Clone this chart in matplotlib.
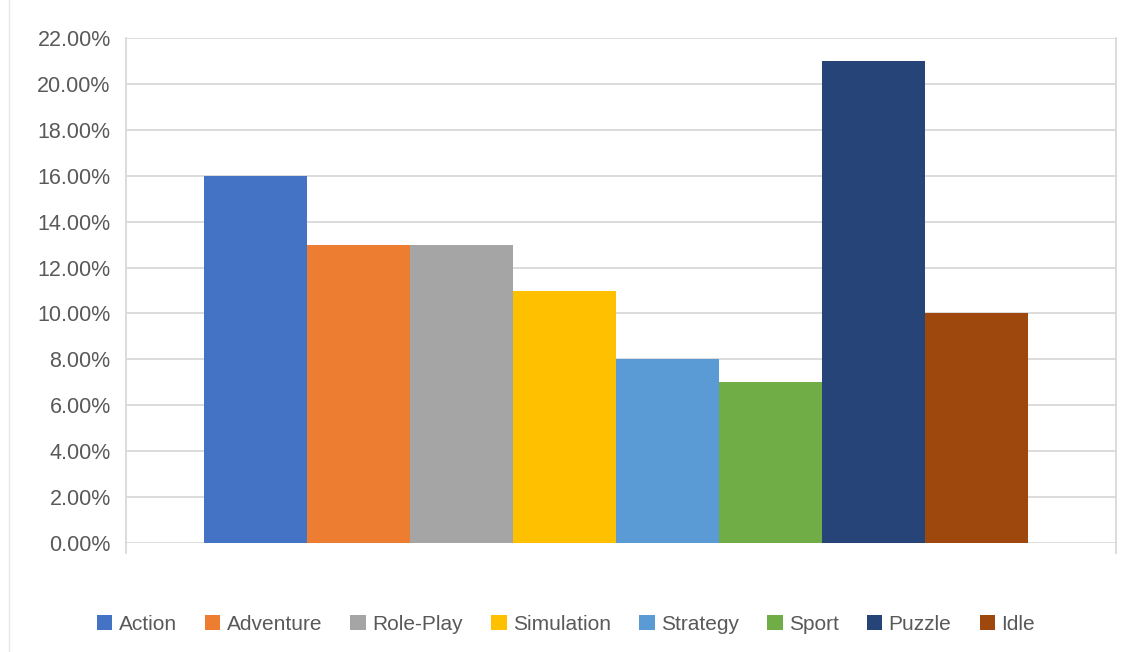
import numpy as np
import matplotlib
matplotlib.use("Agg")
from matplotlib import pyplot as plt
from matplotlib.ticker import PercentFormatter

# genre shares (fraction of total)
genres = ["Action", "Adventure", "Role-Play", "Simulation", "Strategy", "Sport", "Puzzle", "Idle"]
shares = [0.16, 0.13, 0.13, 0.11, 0.08, 0.07, 0.21, 0.10]
colors = ["#4472C4", "#ED7D31", "#A5A5A5", "#FFC000", "#5B9BD5", "#70AD47", "#264478", "#9E480E"]
y_ticks = np.arange(0, 0.2201, 0.02)

plt.rcParams["font.family"] = ["Liberation Sans", "DejaVu Sans"]

fig = plt.figure(figsize=(11.41, 6.52), dpi=100)
ax = fig.add_axes([126/1141, 1 - 543/652, 990/1141, 505/652])

n = len(genres)
w = 0.832 / n
for i in range(n):
	x = -0.416 + w*(i + 0.5) - 0.005
	ax.bar(x, shares[i], width=w, color=colors[i], label=genres[i], zorder=3)

ax.set_xlim(-0.5, 0.5)
ax.set_ylim(0, 0.22)
ax.set_yticks(y_ticks)
ax.yaxis.set_major_formatter(PercentFormatter(1.0, decimals=2))
ax.tick_params(axis="y", length=0, pad=11, labelsize=15.5, labelcolor="#595959")
ax.set_xticks([-0.5, 0.5])
ax.set_xticklabels(["", ""])
ax.tick_params(axis="x", length=8, width=1.3, color="#D9D9D9")
ax.grid(axis="y", color="#D9D9D9", linewidth=1.3, zorder=0)

for s in ["top", "bottom"]:
	ax.spines[s].set_visible(False)
for s in ["left", "right"]:
	ax.spines[s].set_color("#D9D9D9")
	ax.spines[s].set_linewidth(1.3)

# outer chart border line on the left
fig.add_artist(plt.Line2D([9/1141, 9/1141], [0, 1], color="#E6E6E6", linewidth=1))

fig.legend(loc="center", bbox_to_anchor=(0.496, 1 - 624/652), ncol=n, frameon=False,
		   fontsize=15, labelcolor="#595959", handlelength=0.75, handleheight=0.75,
		   handletextpad=0.3, columnspacing=1.35)

fig.savefig("out.png", dpi=100)
